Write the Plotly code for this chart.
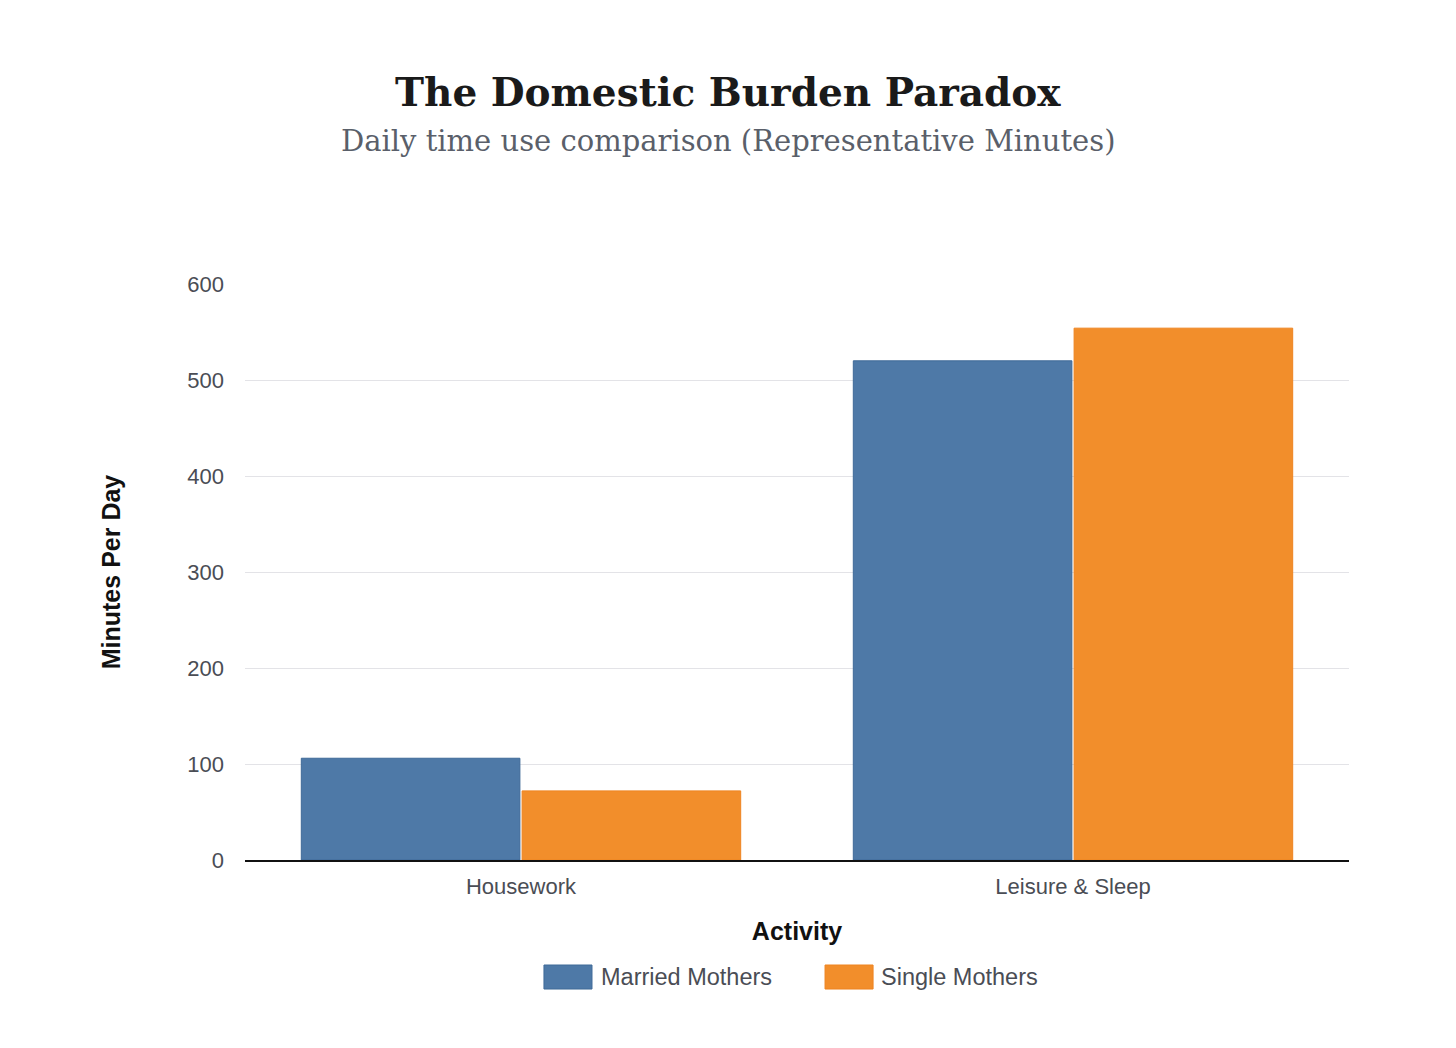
import plotly.graph_objects as go

categories = ["Housework", "Leisure & Sleep"]
married = [106, 520]
single = [72, 554]
series_names = ["Married Mothers", "Single Mothers"]
series_colors = ["#4E79A7", "#F28E2B"]
border_colors = ["#3f6a98", "#ee8420"]
y_ticks = [0, 100, 200, 300, 400, 500, 600]

fig = go.Figure()
for vals, name, col, bcol in zip([married, single], series_names, series_colors, border_colors):
    fig.add_trace(go.Bar(x=categories, y=vals, name=name, showlegend=False,
                         marker=dict(color=col, line=dict(color=bcol, width=1))))

# custom legend (large swatches like reference)
legend_swatch_x = [0.2708, 0.5254]
legend_text_x = [0.3207, 0.5743]
shapes = []
annotations = []
for sx, tx, name, col, bcol in zip(legend_swatch_x, legend_text_x, series_names, series_colors, border_colors):
    shapes.append(dict(type="rect", xref="paper", yref="paper", x0=sx, x1=sx + 0.0435,
                       y0=-0.2240, y1=-0.1823, fillcolor=col, line=dict(color=bcol, width=1)))
    annotations.append(dict(text=name, xref="paper", yref="paper", x=tx, y=-0.2031,
                            xanchor="left", yanchor="middle", showarrow=False,
                            font=dict(size=23.5, color="#4a4d55")))

annotations += [
    dict(text="<b>The Domestic Burden Paradox</b>", xref="paper", yref="paper",
         x=0.4375, y=1.0, xanchor="center", yanchor="middle",
         font=dict(family="DejaVu Serif, serif", size=39, color="#1a1a1a"),
         showarrow=False, yshift=192),
    dict(text="Daily time use comparison (Representative Minutes)", xref="paper", yref="paper",
         x=0.4375, y=1.0, xanchor="center", yanchor="middle",
         font=dict(family="DejaVu Serif, serif", size=29, color="#5a5f6a"),
         showarrow=False, yshift=143),
]

fig.update_layout(
    width=1456, height=1048,
    paper_bgcolor="white", plot_bgcolor="white",
    margin=dict(l=237, r=115, t=276, b=196),
    barmode="group", bargap=0.2, bargroupgap=0.01,
    font=dict(family="Liberation Sans, Arial, sans-serif", color="#4a4d55"),
    showlegend=False,
    shapes=shapes,
    annotations=annotations,
)
fig.update_xaxes(title=dict(text="<b>Activity</b>", font=dict(size=25, color="#111111"), standoff=24),
                 showline=True, linecolor="#111111", linewidth=1.5,
                 tickfont=dict(size=22, color="#4a4d55"), ticks="", showgrid=False,
                 ticklabelstandoff=6)
fig.update_yaxes(title=dict(text="<b>Minutes Per Day</b>", font=dict(size=25, color="#111111"), standoff=59),
                 range=[0, 600], tickvals=y_ticks, tickfont=dict(size=22, color="#4a4d55"),
                 showgrid=True, gridcolor="#e3e3e7", gridwidth=1.3, zeroline=False, ticks="",
                 ticklabelstandoff=20)

fig.write_html("out.html")
